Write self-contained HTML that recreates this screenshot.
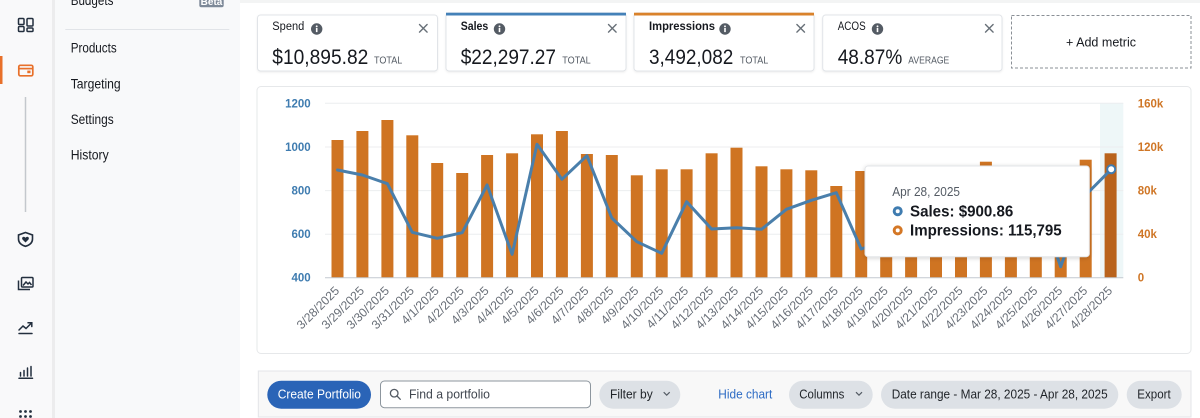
<!DOCTYPE html>
<html>
<head>
<meta charset="utf-8">
<style>
html,body{margin:0;padding:0;width:1200px;height:418px;overflow:hidden;background:#fff;}
svg{display:block;}
text{font-family:"Liberation Sans",Arial,sans-serif;}
</style>
</head>
<body>
<svg width="1200" height="418" viewBox="0 0 1200 418" xmlns="http://www.w3.org/2000/svg">
<defs>
<filter id="sh" x="-10%" y="-10%" width="120%" height="130%">
<feDropShadow dx="0" dy="1" stdDeviation="2" flood-color="#000" flood-opacity="0.18"/>
</filter>
<filter id="csh" x="-5%" y="-10%" width="110%" height="130%">
<feDropShadow dx="0" dy="1" stdDeviation="1" flood-color="#000" flood-opacity="0.07"/>
</filter>
</defs>

<!-- backgrounds -->
<rect x="0" y="0" width="1200" height="418" fill="#ffffff"/>
<rect x="240" y="0" width="960" height="3" fill="#f3f4f4"/>
<rect x="0" y="0" width="52" height="418" fill="#f9f9fa"/>
<rect x="52" y="0" width="3" height="418" fill="#ececed"/>
<rect x="55" y="0" width="185" height="418" fill="#f8f9fa"/>

<!-- rail -->
<rect x="0" y="56" width="2.5" height="28" fill="#e8702a"/>
<g fill="none" stroke="#232f3e" stroke-width="1.5">
<rect x="18.5" y="18.5" width="5.5" height="6" rx="1"/>
<rect x="18.5" y="26.5" width="5.5" height="5" rx="1"/>
<rect x="27" y="18.5" width="6" height="7.5" rx="1"/>
<rect x="27" y="28" width="6" height="3.5" rx="1"/>
</g>
<g fill="none" stroke="#e8702a" stroke-width="1.7">
<rect x="18.8" y="65.3" width="14" height="10.5" rx="1.5"/>
<line x1="18.8" y1="68.6" x2="32.8" y2="68.6"/>
</g>
<rect x="27.3" y="70.6" width="3.2" height="2.6" fill="#e8702a"/>
<line x1="25.5" y1="97" x2="25.5" y2="212" stroke="#c4c8cd" stroke-width="1.5"/>
<path d="M25.5,232.5 L32.5,235 L32.5,239 C32.5,243 29,245.3 25.5,246.3 C22,245.3 18.5,243 18.5,239 L18.5,235 Z" fill="none" stroke="#232f3e" stroke-width="1.6"/>
<path d="M25.5,242.5 L22.6,239.6 C21.6,238.5 22.3,236.8 23.7,236.8 C24.5,236.8 25.1,237.3 25.5,237.9 C25.9,237.3 26.5,236.8 27.3,236.8 C28.7,236.8 29.4,238.5 28.4,239.6 Z" fill="#232f3e"/>
<g fill="none" stroke="#232f3e" stroke-width="1.5">
<rect x="21.5" y="277.5" width="11.5" height="9.5" rx="1"/>
<polyline points="18.5,280.5 18.5,289.5 30,289.5"/>
<polyline points="23,285.5 26,282 28,284 29.5,282.5 31.5,285"/>
</g>
<g fill="none" stroke="#232f3e" stroke-width="1.5" stroke-linecap="round">
<polyline points="19,330 23,326 26,328.5 31.5,323"/>
<polyline points="28,322.8 31.8,322.8 31.8,326.5"/>
<line x1="19" y1="333.5" x2="32" y2="333.5"/>
<line x1="20.5" y1="372.5" x2="20.5" y2="376"/>
<line x1="24" y1="370.5" x2="24" y2="376"/>
<line x1="27.5" y1="368" x2="27.5" y2="376"/>
<line x1="31" y1="366.5" x2="31" y2="376"/>
<line x1="19" y1="378.3" x2="32.5" y2="378.3"/>
</g>
<g fill="#232f3e">
<circle cx="20.5" cy="411.5" r="1.4"/><circle cx="25.5" cy="411.5" r="1.4"/><circle cx="30.5" cy="411.5" r="1.4"/>
<circle cx="20.5" cy="416.5" r="1.4"/><circle cx="25.5" cy="416.5" r="1.4"/><circle cx="30.5" cy="416.5" r="1.4"/>
</g>

<!-- nav -->
<text x="70.7" y="5" font-size="13.5" fill="#16191f" textLength="42.7" lengthAdjust="spacingAndGlyphs">Budgets</text>
<rect x="199.3" y="-3" width="24.4" height="10.3" rx="2" fill="#7d8998"/>
<text x="211.5" y="5" font-size="10" font-weight="bold" fill="#fff" text-anchor="middle">Beta</text>
<line x1="65.3" y1="29.5" x2="229.3" y2="29.5" stroke="#e1e4e8" stroke-width="1"/>
<g font-size="13.5" fill="#16191f">
<text x="70.7" y="52.7" textLength="46" lengthAdjust="spacingAndGlyphs">Products</text>
<text x="70.7" y="88.4" textLength="50" lengthAdjust="spacingAndGlyphs">Targeting</text>
<text x="70.7" y="124" textLength="43" lengthAdjust="spacingAndGlyphs">Settings</text>
<text x="70.7" y="159.7" textLength="38" lengthAdjust="spacingAndGlyphs">History</text>
</g>

<!-- metric cards -->
<g filter="url(#csh)">
<rect x="257.5" y="15" width="180" height="56" rx="3" fill="#fff" stroke="#e1e4e8"/>
<rect x="446" y="13" width="180" height="58" rx="3" fill="#fff" stroke="#e1e4e8"/>
<rect x="634" y="13" width="180" height="58" rx="3" fill="#fff" stroke="#e1e4e8"/>
<rect x="822.7" y="15" width="179.3" height="56" rx="3" fill="#fff" stroke="#e1e4e8"/>
</g>
<rect x="446" y="12.7" width="180" height="2.8" fill="#4481b8"/>
<rect x="634" y="12.7" width="180" height="2.8" fill="#d9822b"/>
<rect x="1011.5" y="15.5" width="179.5" height="52.5" fill="#fff" stroke="#8a8f96" stroke-dasharray="3,2"/>

<g fill="#16191f">
<text x="272.3" y="30" font-size="11.5" textLength="32" lengthAdjust="spacingAndGlyphs">Spend</text>
<text x="460.7" y="30" font-size="11.5" font-weight="bold" textLength="27.6" lengthAdjust="spacingAndGlyphs">Sales</text>
<text x="649" y="30" font-size="11.5" font-weight="bold" textLength="66" lengthAdjust="spacingAndGlyphs">Impressions</text>
<text x="837.7" y="30" font-size="11.5" textLength="28" lengthAdjust="spacingAndGlyphs">ACOS</text>

<text x="272.3" y="64" font-size="21" textLength="96" lengthAdjust="spacingAndGlyphs">$10,895.82</text>
<text x="460.7" y="64" font-size="21" textLength="95.3" lengthAdjust="spacingAndGlyphs">$22,297.27</text>
<text x="649" y="64" font-size="21" textLength="84.3" lengthAdjust="spacingAndGlyphs">3,492,082</text>
<text x="837.7" y="64" font-size="21" textLength="64.6" lengthAdjust="spacingAndGlyphs">48.87%</text>
<text x="1066" y="46.5" font-size="13" textLength="70" lengthAdjust="spacingAndGlyphs">+ Add metric</text>
</g>
<g fill="#545b64" font-size="10">
<text x="374" y="63.5" textLength="28.3" lengthAdjust="spacingAndGlyphs">TOTAL</text>
<text x="562.3" y="63.5" textLength="28.4" lengthAdjust="spacingAndGlyphs">TOTAL</text>
<text x="740" y="63.5" textLength="28.3" lengthAdjust="spacingAndGlyphs">TOTAL</text>
<text x="908.3" y="63.5" textLength="41" lengthAdjust="spacingAndGlyphs">AVERAGE</text>
</g>
<!-- info icons -->
<g>
<circle cx="316.7" cy="29" r="5.7" fill="#545b64"/><circle cx="316.7" cy="26.3" r="0.95" fill="#fff"/><rect x="315.9" y="27.9" width="1.6" height="4.2" fill="#fff"/>
<circle cx="499.5" cy="29" r="5.7" fill="#545b64"/><circle cx="499.5" cy="26.3" r="0.95" fill="#fff"/><rect x="498.7" y="27.9" width="1.6" height="4.2" fill="#fff"/>
<circle cx="725" cy="29" r="5.7" fill="#545b64"/><circle cx="725" cy="26.3" r="0.95" fill="#fff"/><rect x="724.2" y="27.9" width="1.6" height="4.2" fill="#fff"/>
<circle cx="877.5" cy="29" r="5.7" fill="#545b64"/><circle cx="877.5" cy="26.3" r="0.95" fill="#fff"/><rect x="876.7" y="27.9" width="1.6" height="4.2" fill="#fff"/>
</g>
<!-- close x -->
<g stroke="#687078" stroke-width="1.4" stroke-linecap="round">
<path d="M419.5,24.5 L427.1,32.1 M427.1,24.5 L419.5,32.1"/>
<path d="M608.5,24.5 L616.1,32.1 M616.1,24.5 L608.5,32.1"/>
<path d="M796.9,24.5 L804.5,32.1 M804.5,24.5 L796.9,32.1"/>
<path d="M985.5,24.5 L993.1,32.1 M993.1,24.5 L985.5,32.1"/>
</g>

<!-- chart container -->
<rect x="257" y="86.5" width="934" height="267" rx="4" fill="#fff" stroke="#e6e8ea"/>

<!-- highlight band -->
<rect x="1100" y="103.3" width="23.3" height="174.4" fill="#eef7f8"/>

<!-- gridlines -->
<g stroke="#eceeef" stroke-width="1">
<line x1="325" y1="103.3" x2="1123.3" y2="103.3"/>
<line x1="325" y1="147" x2="1123.3" y2="147"/>
<line x1="325" y1="190.6" x2="1123.3" y2="190.6"/>
<line x1="325" y1="234.2" x2="1123.3" y2="234.2"/>
</g>

<!-- bars -->
<g fill="#cf7422">
<rect x="331.5" y="140" width="12" height="137.7"/>
<rect x="356.4" y="131" width="12" height="146.7"/>
<rect x="381.4" y="120" width="12" height="157.7"/>
<rect x="406.3" y="135.3" width="12" height="142.4"/>
<rect x="431.2" y="163" width="12" height="114.7"/>
<rect x="456.2" y="173" width="12" height="104.7"/>
<rect x="481.1" y="155" width="12" height="122.7"/>
<rect x="506.1" y="153.3" width="12" height="124.4"/>
<rect x="531" y="134.3" width="12" height="143.4"/>
<rect x="555.9" y="131" width="12" height="146.7"/>
<rect x="580.9" y="154" width="12" height="123.7"/>
<rect x="605.8" y="155" width="12" height="122.7"/>
<rect x="630.8" y="175.3" width="12" height="102.4"/>
<rect x="655.7" y="169.3" width="12" height="108.4"/>
<rect x="680.6" y="169.3" width="12" height="108.4"/>
<rect x="705.6" y="153.3" width="12" height="124.4"/>
<rect x="730.5" y="147.7" width="12" height="130"/>
<rect x="755.5" y="166.3" width="12" height="111.4"/>
<rect x="780.4" y="169.3" width="12" height="108.4"/>
<rect x="805.3" y="170.3" width="12" height="107.4"/>
<rect x="830.3" y="186" width="12" height="91.7"/>
<rect x="855.2" y="171" width="12" height="106.7"/>
<rect x="880.2" y="175" width="12" height="102.7"/>
<rect x="905.1" y="178" width="12" height="99.7"/>
<rect x="930" y="172" width="12" height="105.7"/>
<rect x="955" y="170" width="12" height="107.7"/>
<rect x="979.9" y="161.7" width="12" height="116"/>
<rect x="1004.9" y="172" width="12" height="105.7"/>
<rect x="1029.8" y="174" width="12" height="103.7"/>
<rect x="1054.7" y="170" width="12" height="107.7"/>
<rect x="1079.7" y="159.7" width="12" height="118"/>
</g>
<rect x="1104.6" y="153.3" width="12" height="124.4" fill="#b9631c"/>

<!-- baseline -->
<line x1="325" y1="277.7" x2="1123.3" y2="277.7" stroke="#c3c9d0" stroke-width="1"/>

<!-- line series -->
<polyline fill="none" stroke="#4a7fab" stroke-width="3" stroke-linejoin="round" stroke-linecap="round"
points="337.5,170 362.4,175 387.4,183.7 412.3,232.3 437.2,238.3 462.2,232.7 487.1,185 512.1,254.3 537,144.3 561.9,179.3 586.9,155.7 611.8,218 636.8,241.7 661.7,253.3 686.6,201.7 711.6,229 736.5,227.7 761.5,229.3 786.4,209.3 811.3,200.3 836.3,192.7 861.2,249 886.2,240 911.1,215 936,205 961,190 985.9,200 1010.9,215 1035.8,195 1060.7,266.7 1085.7,195 1111.2,169.3"/>
<circle cx="1111.2" cy="169.3" r="4" fill="#fff" stroke="#3f7cb0" stroke-width="2"/>

<!-- left axis -->
<g font-size="11.5" font-weight="bold" fill="#3f7cb0" text-anchor="end">
<text x="310.7" y="107.3">1200</text>
<text x="310.7" y="151">1000</text>
<text x="310.7" y="194.6">800</text>
<text x="310.7" y="238.2">600</text>
<text x="310.7" y="281.7">400</text>
</g>
<!-- right axis -->
<g font-size="11.5" font-weight="bold" fill="#cf7626">
<text x="1137.7" y="107.3">160k</text>
<text x="1137.7" y="151">120k</text>
<text x="1137.7" y="194.6">80k</text>
<text x="1137.7" y="238.2">40k</text>
<text x="1137.7" y="281.7">0</text>
</g>

<!-- x labels -->
<g font-size="12.2" fill="#686e77" text-anchor="end">
<text transform="translate(340,291.5) rotate(-45)">3/28/2025</text>
<text transform="translate(364.9,291.5) rotate(-45)">3/29/2025</text>
<text transform="translate(389.9,291.5) rotate(-45)">3/30/2025</text>
<text transform="translate(414.8,291.5) rotate(-45)">3/31/2025</text>
<text transform="translate(439.7,291.5) rotate(-45)">4/1/2025</text>
<text transform="translate(464.7,291.5) rotate(-45)">4/2/2025</text>
<text transform="translate(489.6,291.5) rotate(-45)">4/3/2025</text>
<text transform="translate(514.6,291.5) rotate(-45)">4/4/2025</text>
<text transform="translate(539.5,291.5) rotate(-45)">4/5/2025</text>
<text transform="translate(564.4,291.5) rotate(-45)">4/6/2025</text>
<text transform="translate(589.4,291.5) rotate(-45)">4/7/2025</text>
<text transform="translate(614.3,291.5) rotate(-45)">4/8/2025</text>
<text transform="translate(639.3,291.5) rotate(-45)">4/9/2025</text>
<text transform="translate(664.2,291.5) rotate(-45)">4/10/2025</text>
<text transform="translate(689.1,291.5) rotate(-45)">4/11/2025</text>
<text transform="translate(714.1,291.5) rotate(-45)">4/12/2025</text>
<text transform="translate(739,291.5) rotate(-45)">4/13/2025</text>
<text transform="translate(764,291.5) rotate(-45)">4/14/2025</text>
<text transform="translate(788.9,291.5) rotate(-45)">4/15/2025</text>
<text transform="translate(813.8,291.5) rotate(-45)">4/16/2025</text>
<text transform="translate(838.8,291.5) rotate(-45)">4/17/2025</text>
<text transform="translate(863.7,291.5) rotate(-45)">4/18/2025</text>
<text transform="translate(888.7,291.5) rotate(-45)">4/19/2025</text>
<text transform="translate(913.6,291.5) rotate(-45)">4/20/2025</text>
<text transform="translate(938.5,291.5) rotate(-45)">4/21/2025</text>
<text transform="translate(963.5,291.5) rotate(-45)">4/22/2025</text>
<text transform="translate(988.4,291.5) rotate(-45)">4/23/2025</text>
<text transform="translate(1013.4,291.5) rotate(-45)">4/24/2025</text>
<text transform="translate(1038.3,291.5) rotate(-45)">4/25/2025</text>
<text transform="translate(1063.2,291.5) rotate(-45)">4/26/2025</text>
<text transform="translate(1088.2,291.5) rotate(-45)">4/27/2025</text>
<text transform="translate(1113.1,291.5) rotate(-45)">4/28/2025</text>
</g>

<!-- tooltip -->
<rect x="865" y="166" width="224.3" height="90.7" rx="3" fill="#fff" stroke="#e3e5e8" filter="url(#sh)"/>
<text x="892.3" y="196" font-size="13" fill="#545b64" textLength="67.7" lengthAdjust="spacingAndGlyphs">Apr 28, 2025</text>
<circle cx="897.7" cy="211.2" r="3.5" fill="#fff" stroke="#3f7cb0" stroke-width="3"/>
<circle cx="897.7" cy="230.4" r="3.5" fill="#fff" stroke="#d47725" stroke-width="3"/>
<text x="910" y="216.3" font-size="15.5" font-weight="bold" fill="#16191f" textLength="103.3" lengthAdjust="spacingAndGlyphs">Sales: $900.86</text>
<text x="910" y="235.3" font-size="15.5" font-weight="bold" fill="#16191f" textLength="151.7" lengthAdjust="spacingAndGlyphs">Impressions:  115,795</text>

<!-- toolbar -->
<rect x="258.3" y="371" width="932.7" height="46" fill="#f8f8f8" stroke="#e3e5e8"/>
<rect x="267.3" y="380.7" width="103.7" height="28" rx="14" fill="#2a64b7"/>
<text x="277.7" y="398.5" font-size="12.5" fill="#fff" textLength="83.3" lengthAdjust="spacingAndGlyphs">Create Portfolio</text>
<rect x="380.5" y="381" width="210" height="26.7" rx="4" fill="#fff" stroke="#8d969e"/>
<circle cx="394.2" cy="393.2" r="3.8" fill="none" stroke="#545b64" stroke-width="1.3"/>
<line x1="397" y1="396" x2="400.3" y2="399.3" stroke="#545b64" stroke-width="1.3" stroke-linecap="round"/>
<text x="409" y="398.5" font-size="12.5" fill="#414750" textLength="81" lengthAdjust="spacingAndGlyphs">Find a portfolio</text>
<rect x="599.3" y="380.7" width="81" height="28" rx="14" fill="#dde1e6"/>
<text x="610" y="398.5" font-size="12.5" fill="#1f2328" textLength="42.7" lengthAdjust="spacingAndGlyphs">Filter by</text>
<polyline points="663.7,392.2 666.7,395.2 669.7,392.2" fill="none" stroke="#545b64" stroke-width="1.2"/>
<text x="718.3" y="398.5" font-size="12.5" fill="#2d6bc4" textLength="54" lengthAdjust="spacingAndGlyphs">Hide chart</text>
<rect x="789" y="380.7" width="83.7" height="28" rx="14" fill="#dde1e6"/>
<text x="799.3" y="398.5" font-size="12.5" fill="#1f2328" textLength="45" lengthAdjust="spacingAndGlyphs">Columns</text>
<polyline points="856,392.2 859,395.2 862,392.2" fill="none" stroke="#545b64" stroke-width="1.2"/>
<rect x="881" y="380.7" width="237.3" height="28" rx="14" fill="#dde1e6"/>
<text x="891.7" y="398.5" font-size="12.5" fill="#1f2328" textLength="216" lengthAdjust="spacingAndGlyphs">Date range - Mar 28, 2025 - Apr 28, 2025</text>
<rect x="1126.7" y="380.7" width="55" height="28" rx="14" fill="#dde1e6"/>
<text x="1137.3" y="398.5" font-size="12.5" fill="#1f2328" textLength="33.4" lengthAdjust="spacingAndGlyphs">Export</text>
</svg>
</body>
</html>
